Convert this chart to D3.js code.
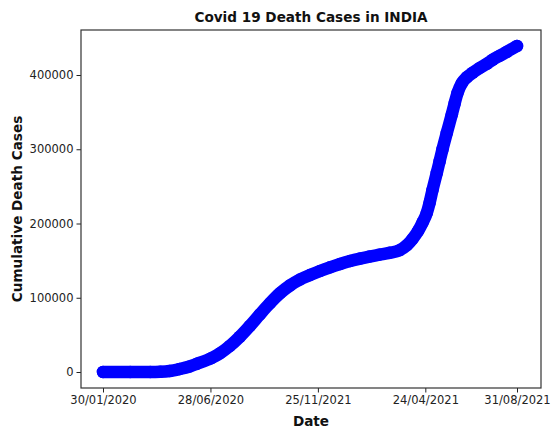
<!DOCTYPE html>
<html>
<head>
<meta charset="utf-8">
<script src="https://cdn.jsdelivr.net/npm/d3@7"></script>
<style>
  html, body { margin: 0; padding: 0; background: #fff; }
  svg { display: block; font-family: "DejaVu Sans", sans-serif; }
</style>
</head>
<body>
<svg id="chart" width="551" height="430"></svg>
<script>
// Day number counted from 30/01/2020 and the cumulative deaths on that day
const dayIndex = [0, 38, 66, 80, 93, 107, 121, 131, 151, 163, 177, 191, 205, 219, 233,
  247, 261, 275, 289, 303, 317, 331, 345, 359, 372, 386, 400, 414, 424, 432, 440, 446,
  452, 456, 460, 466, 470, 474, 480, 487, 491, 495, 501, 508, 516, 526, 536, 544, 554, 564, 578];
const deaths = [0, 0, 0, 300, 1300, 4000, 7500, 11000, 18500, 25000, 35000, 47500, 62000,
  77500, 92500, 106000, 116500, 124500, 130500, 136000, 141000, 145500, 149500, 152800,
  155500, 158000, 160500, 164000, 170500, 179000, 190000, 201000, 214000, 228000, 245000,
  268000, 284000, 300000, 322000, 347000, 362000, 376000, 389000, 397000, 403000, 409500,
  415000, 420500, 426000, 431300, 439000];

// x-axis ticks (day numbers and their date labels)
const tickDays = [0, 150, 300, 450, 578];
const tickLabels = ["30/01/2020", "28/06/2020", "25/11/2021", "24/04/2021", "31/08/2021"];
const yTicks = [0, 100000, 200000, 300000, 400000];

const points = dayIndex.map((d, i) => ({ day: d, value: deaths[i] }));

const svg = d3.select("#chart");
const frame = { left: 81, right: 541, top: 30, bottom: 388 };

const x = d3.scaleLinear().domain([0, 578]).range([103, 517]);
const y = d3.scaleLinear().domain([0, 400000]).range([372, 75]);

// Axes
const xAxis = d3.axisBottom(x)
  .tickValues(tickDays)
  .tickFormat((d, i) => tickLabels[i])
  .tickSize(4.5)
  .tickPadding(3);
const yAxis = d3.axisLeft(y)
  .tickValues(yTicks)
  .tickFormat(d3.format("d"))
  .tickSize(4.5)
  .tickPadding(3);

const gx = svg.append("g")
  .attr("transform", `translate(0,${frame.bottom})`)
  .call(xAxis);
const gy = svg.append("g")
  .attr("transform", `translate(${frame.left},0)`)
  .call(yAxis);

[gx, gy].forEach(g => {
  g.select(".domain").remove();
  g.selectAll(".tick line").attr("stroke", "#222").attr("stroke-width", 1);
  g.selectAll(".tick text")
    .attr("fill", "#222")
    .style("font-family", "'DejaVu Sans', sans-serif")
    .style("font-size", "11.5px");
});

// Plot frame
svg.append("rect")
  .attr("x", frame.left)
  .attr("y", frame.top)
  .attr("width", frame.right - frame.left)
  .attr("height", frame.bottom - frame.top)
  .attr("fill", "none")
  .attr("stroke", "#333")
  .attr("stroke-width", 1.2);

// Dense dot trail: thick rounded path plus the sample dots
const line = d3.line()
  .x(d => x(d.day))
  .y(d => y(d.value))
  .curve(d3.curveMonotoneX);

svg.append("path")
  .datum(points)
  .attr("d", line)
  .attr("fill", "none")
  .attr("stroke", "#0000ff")
  .attr("stroke-width", 12.5)
  .attr("stroke-linecap", "round")
  .attr("stroke-linejoin", "round");

svg.append("g")
  .selectAll("circle")
  .data(points)
  .join("circle")
  .attr("cx", d => x(d.day))
  .attr("cy", d => y(d.value))
  .attr("r", 6.25)
  .attr("fill", "#0000ff");

// Titles
svg.append("text")
  .attr("x", (frame.left + frame.right) / 2)
  .attr("y", 22)
  .attr("text-anchor", "middle")
  .style("font-weight", "bold")
  .style("font-size", "13.6px")
  .attr("fill", "#111")
  .text("Covid 19 Death Cases in INDIA");

svg.append("text")
  .attr("x", (frame.left + frame.right) / 2)
  .attr("y", 426)
  .attr("text-anchor", "middle")
  .style("font-weight", "bold")
  .style("font-size", "13.6px")
  .attr("fill", "#111")
  .text("Date");

svg.append("text")
  .attr("transform", `translate(22,${(frame.top + frame.bottom) / 2}) rotate(-90)`)
  .attr("text-anchor", "middle")
  .style("font-weight", "bold")
  .style("font-size", "13.6px")
  .attr("fill", "#111")
  .text("Cumulative Death Cases");
</script>
</body>
</html>
